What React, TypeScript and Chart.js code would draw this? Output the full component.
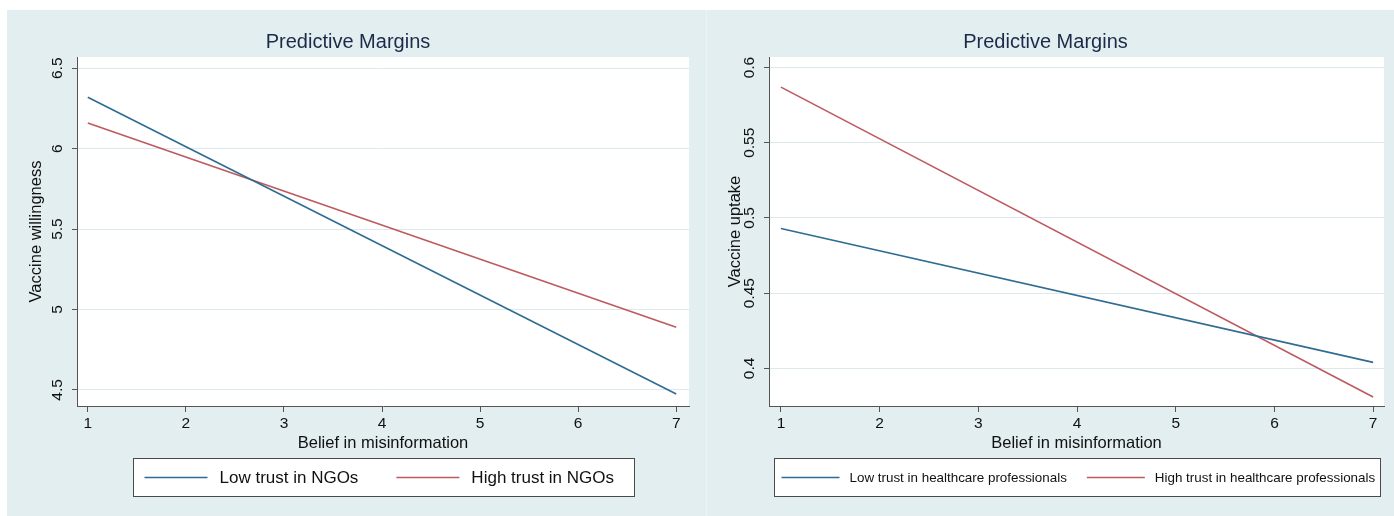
import React, { useEffect, useRef } from 'react';
import { Chart, registerables } from 'chart.js';

Chart.register(...registerables);

// ---- data ----
const xTicks = [1, 2, 3, 4, 5, 6, 7];
const xPoints = [1, 7];
const ngoLow = [6.32, 4.475];
const ngoHigh = [6.16, 4.89];
const ngoYTicks = [4.5, 5, 5.5, 6, 6.5];
const ngoLabels = ['Low trust in NGOs', 'High trust in NGOs'];
const hcLow = [0.493, 0.404];
const hcHigh = [0.587, 0.381];
const hcYTicks = [0.4, 0.45, 0.5, 0.55, 0.6];
const hcLabels = ['Low trust in healthcare professionals', 'High trust in healthcare professionals'];

const FONT = '"Liberation Sans", Arial, Helvetica, sans-serif';
const BLUE = '#2f6c92';
const RED = '#bd5a5f';
const PANEL = '#e2eef0';

const plotBg = {
  id: 'plotBg',
  beforeDraw(chart: any) {
    const { ctx, chartArea: a } = chart;
    ctx.save();
    ctx.fillStyle = '#ffffff';
    ctx.fillRect(a.left, a.top, a.right - a.left, a.bottom - a.top);
    ctx.restore();
  },
};

const boxLegend = {
  id: 'boxLegend',
  afterDraw(chart: any, _args: any, opts: any) {
    const { ctx, chartArea } = chart;
    const { fontSize, lineLen, gapText, gapItems, marginLeft, marginRight, offsetTop, height } = opts;
    ctx.save();
    ctx.font = `${fontSize}px ${FONT}`;
    const ds = chart.data.datasets;
    const widths = ds.map((d: any) => ctx.measureText(d.label).width);
    const content =
      ds.length * (lineLen + gapText) +
      widths.reduce((a: number, b: number) => a + b, 0) +
      gapItems * (ds.length - 1);
    const cx = (chartArea.left + chartArea.right) / 2;
    const boxW = Math.round(content + marginLeft + marginRight);
    const left = Math.round(cx - boxW / 2) + 0.5;
    const top = Math.round(chartArea.bottom + offsetTop) + 0.5;
    ctx.fillStyle = '#ffffff';
    ctx.fillRect(left, top, boxW, height);
    ctx.strokeStyle = '#4a4a4a';
    ctx.lineWidth = 1;
    ctx.strokeRect(left, top, boxW, height);
    let x = left + marginLeft;
    const cy = top + height / 2;
    ds.forEach((d: any, i: number) => {
      ctx.strokeStyle = d.borderColor;
      ctx.lineWidth = 1.6;
      ctx.beginPath();
      ctx.moveTo(x, cy);
      ctx.lineTo(x + lineLen, cy);
      ctx.stroke();
      x += lineLen + gapText;
      ctx.fillStyle = '#111111';
      ctx.textBaseline = 'middle';
      ctx.textAlign = 'left';
      ctx.fillText(d.label, x, cy + 1);
      x += widths[i] + gapItems;
    });
    ctx.restore();
  },
};

type PanelCfg = {
  width: number;
  height: number;
  yTitle: string;
  yTicks: number[];
  yMin: number;
  yMax: number;
  xMin: number;
  xMax: number;
  low: number[];
  high: number[];
  labels: string[];
  yAxisWidth: number;
  yTickPad: number;
  yTitlePad: number;
  rightPad: number;
  legend: any;
};

function Panel({ cfg }: { cfg: PanelCfg }) {
  const ref = useRef<HTMLCanvasElement | null>(null);
  useEffect(() => {
    if (!ref.current) return;
    const chart = new Chart(ref.current, {
      type: 'line',
      data: {
        datasets: [
          {
            label: cfg.labels[0],
            data: xPoints.map((x, i) => ({ x, y: cfg.low[i] })),
            borderColor: BLUE,
            backgroundColor: BLUE,
            borderWidth: 1.6,
            pointRadius: 0,
            tension: 0,
          },
          {
            label: cfg.labels[1],
            data: xPoints.map((x, i) => ({ x, y: cfg.high[i] })),
            borderColor: RED,
            backgroundColor: RED,
            borderWidth: 1.6,
            pointRadius: 0,
            tension: 0,
          },
        ],
      },
      options: {
        responsive: false,
        animation: false,
        devicePixelRatio: 1,
        layout: { padding: { left: 0, top: 0, right: cfg.rightPad, bottom: 63 } },
        plugins: {
          legend: { display: false },
          tooltip: { enabled: false },
          title: {
            display: true,
            text: 'Predictive Margins',
            color: '#1b2a47',
            font: { family: FONT, size: 20, weight: 'normal' },
            padding: { top: 20, bottom: 3 },
          },
          boxLegend: cfg.legend,
        } as any,
        scales: {
          x: {
            type: 'linear',
            min: cfg.xMin,
            max: cfg.xMax,
            afterBuildTicks: (s: any) => {
              s.ticks = xTicks.map((v) => ({ value: v }));
            },
            afterFit: (s: any) => {
              s.height = 47;
            },
            grid: { drawOnChartArea: false, drawTicks: true, tickLength: 6, tickColor: '#555555', tickWidth: 1 },
            border: { display: true, color: '#555555', width: 1 },
            ticks: {
              color: '#111111',
              font: { family: FONT, size: 15.5 },
              padding: 2,
              callback: (v: any) => String(v),
            },
            title: {
              display: true,
              text: 'Belief in misinformation',
              color: '#111111',
              font: { family: FONT, size: 16.5 },
              padding: { top: 0, bottom: 0 },
            },
          },
          y: {
            type: 'linear',
            min: cfg.yMin,
            max: cfg.yMax,
            afterBuildTicks: (s: any) => {
              s.ticks = cfg.yTicks.map((v) => ({ value: v }));
            },
            afterFit: (s: any) => {
              s.width = cfg.yAxisWidth;
            },
            grid: { color: '#dde9ed', lineWidth: 1, drawTicks: true, tickLength: 5, tickColor: '#555555', tickWidth: 1 },
            border: { display: true, color: '#555555', width: 1 },
            ticks: {
              color: '#111111',
              font: { family: FONT, size: 15.5 },
              padding: cfg.yTickPad,
              minRotation: 90,
              maxRotation: 90,
              crossAlign: 'center',
              callback: (v: any) => String(v),
            },
            title: {
              display: true,
              text: cfg.yTitle,
              color: '#111111',
              font: { family: FONT, size: 16.5 },
              padding: { top: cfg.yTitlePad, bottom: 0 },
            },
          },
        },
      } as any,
      plugins: [plotBg, boxLegend],
    });
    return () => chart.destroy();
  }, [cfg]);
  return <canvas ref={ref} width={cfg.width} height={cfg.height} style={{ display: 'block', width: cfg.width, height: cfg.height }} />;
}

const leftCfg: PanelCfg = {
  width: 699,
  height: 506,
  yTitle: 'Vaccine willingness',
  yTicks: ngoYTicks,
  yMin: 4.4,
  yMax: 6.57,
  xMin: 0.89,
  xMax: 7.13,
  low: ngoLow,
  high: ngoHigh,
  labels: ngoLabels,
  yAxisWidth: 70,
  yTickPad: 4,
  yTitlePad: 20,
  rightPad: 17,
  legend: { fontSize: 17, lineLen: 63, gapText: 12, gapItems: 38, marginLeft: 11, marginRight: 20, offsetTop: 52, height: 38 },
};

const rightCfg: PanelCfg = {
  width: 687,
  height: 506,
  yTitle: 'Vaccine uptake',
  yTicks: hcYTicks,
  yMin: 0.375,
  yMax: 0.607,
  xMin: 0.879,
  xMax: 7.11,
  low: hcLow,
  high: hcHigh,
  labels: hcLabels,
  yAxisWidth: 62,
  yTickPad: -1,
  yTitlePad: 19,
  rightPad: 10,
  legend: { fontSize: 13.4, lineLen: 58, gapText: 10, gapItems: 20, marginLeft: 7, marginRight: 5, offsetTop: 52, height: 38 },
};

export default function App() {
  return (
    <div style={{ position: 'absolute', left: 7, top: 10, width: 1387, height: 506, background: '#ecf4f5' }}>
      <div style={{ position: 'absolute', left: 0, top: 0, width: 699, height: 506, background: PANEL }}>
        <Panel cfg={leftCfg} />
      </div>
      <div style={{ position: 'absolute', left: 700, top: 0, width: 687, height: 506, background: PANEL }}>
        <Panel cfg={rightCfg} />
      </div>
    </div>
  );
}
